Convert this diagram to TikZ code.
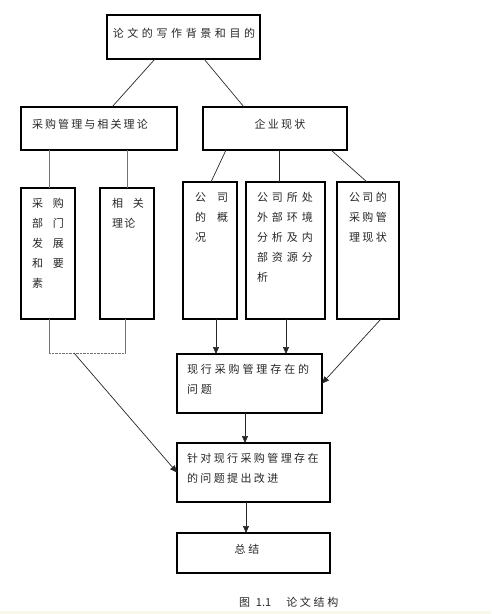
\documentclass[tikz,border=0pt]{standalone}
\usepackage{fontspec}
\setmainfont{Noto Sans CJK SC}
\usetikzlibrary{arrows.meta}
\newcommand\myspaced[2]{\def\myspacedgap{#1}\myspacedloop#2\relax}
\def\myspacedloop#1{\ifx#1\relax\else#1\hspace{\myspacedgap}\expandafter\myspacedloop\fi}
\begin{document}
\begin{tikzpicture}[x=1pt,y=-1pt,
 box/.style={draw=black,line width=1.3pt,rectangle,anchor=north west,inner sep=0pt,outer sep=0pt},
 txt/.style={inner sep=0pt,outer sep=0pt,anchor=north west,align=left,font=\fontsize{11}{20}\selectfont,text=black!85},
 conn/.style={draw=black!85,line width=0.7pt},
 gconn/.style={draw=black!55,line width=0.9pt},
 arr/.style={conn,-{Triangle[length=7pt,width=6pt]}}]
\useasboundingbox (0,0) rectangle (491,614);
\fill[fill={rgb,255:red,250;green,247;blue,235}] (0,611) rectangle (491,614);
% boxes
\node[box,minimum width=153pt,minimum height=44pt] (top) at (107,15) {};
\node[box,minimum width=156pt,minimum height=43pt] (theory) at (21,107) {};
\node[box,minimum width=144pt,minimum height=43pt] (ent) at (203,107) {};
\node[box,minimum width=54pt,minimum height=131pt] (b1) at (21,188) {};
\node[box,minimum width=54pt,minimum height=131pt] (b2) at (100,188) {};
\node[box,minimum width=54pt,minimum height=137pt] (c1) at (183,182) {};
\node[box,minimum width=79pt,minimum height=137pt] (c2) at (246,182) {};
\node[box,minimum width=62pt,minimum height=137pt] (c3) at (337,182) {};
\node[box,minimum width=145pt,minimum height=59pt] (p1) at (177,354) {};
\node[box,minimum width=153pt,minimum height=59pt] (p2) at (177,443) {};
\node[box,minimum width=153pt,minimum height=40pt] (p3) at (177,533) {};
% texts
\node[txt,anchor=center] (ttop) at (184,33) {\myspaced{3.6pt}{论文的写作背景和目}的};
\node[txt] (ttheory) at (32,119) {\myspaced{2.1pt}{采购管理与相关理}论};
\node[txt,anchor=center] (tent) at (280,124) {\myspaced{2.3pt}{企业现}状};
\node[txt] (tb1) at (32,198) {\myspaced{10pt}{采}购\\\myspaced{10pt}{部}门\\\myspaced{10pt}{发}展\\\myspaced{10pt}{和}要\\素};
\node[txt] (tb2) at (112,198) {\myspaced{10pt}{相}关\\理\hspace{1.5pt}论};
\node[txt] (tc1) at (195,192) {\myspaced{11pt}{公}司\\\myspaced{11pt}{的}概\\况};
\node[txt] (tc2) at (257,192) {\myspaced{4pt}{公司所}处\\\myspaced{4pt}{外部环}境\\\myspaced{4pt}{分析及}内\\\myspaced{4pt}{部资源}分\\析};
\node[txt] (tc3) at (349,192) {\myspaced{2.4pt}{公司}的\\\myspaced{2.4pt}{采购}管\\\myspaced{2.4pt}{理现}状};
\node[txt] (tp1) at (187,364) {\myspaced{2.9pt}{现行采购管理存在}的\\问\hspace{2.9pt}题};
\node[txt] (tp2) at (187,453) {\myspaced{2.4pt}{针对现行采购管理存}在\\\myspaced{2.4pt}{的问题提出改}进};
\node[txt,anchor=center] (tp3) at (247,549) {\myspaced{3pt}{总}结};
\node[txt,anchor=west] (cap) at (239,602) {图\hspace{6pt}1.1\hspace{15pt}\myspaced{2.7pt}{论文结}构};
% junction coordinates
\coordinate (j1) at (49,353);
\coordinate (j2) at (125,353);
\coordinate (jm) at (74,353);
% connectors
\draw[conn] ([xshift=48pt]top.south west) -- ([xshift=91pt]theory.north west);
\draw[conn] ([xshift=97pt]top.south west) -- ([xshift=41pt]ent.north west);
\draw[gconn] ([xshift=28pt]theory.south west) -- ([xshift=28pt]b1.north west);
\draw[gconn] ([xshift=106pt]theory.south west) -- ([xshift=27pt]b2.north west);
\draw[conn] ([xshift=23pt]ent.south west) -- ([xshift=28pt]c1.north west);
\draw[conn] ([xshift=76pt]ent.south west) -- ([xshift=33pt]c2.north west);
\draw[conn] ([xshift=128pt]ent.south west) -- ([xshift=30pt]c3.north west);
\draw[gconn] ([xshift=28pt]b1.south west) -- (j1);
\draw[gconn] ([xshift=25pt]b2.south west) -- (j2);
\draw[gconn,dash pattern=on 0.7pt off 0.7pt] (j1) -- (j2);
\draw[arr] (jm) -- (p2.west);
\draw[arr] ([xshift=33pt]c1.south west) -- ([xshift=39pt]p1.north west);
\draw[arr] ([xshift=40pt]c2.south west) -- ([xshift=109pt]p1.north west);
\draw[arr] ([xshift=44pt]c3.south west) -- (p1.east);
\draw[arr] ([xshift=68pt]p1.south west) -- ([xshift=68pt]p2.north west);
\draw[arr] ([xshift=69pt]p2.south west) -- ([xshift=69pt]p3.north west);
\end{tikzpicture}
\end{document}
